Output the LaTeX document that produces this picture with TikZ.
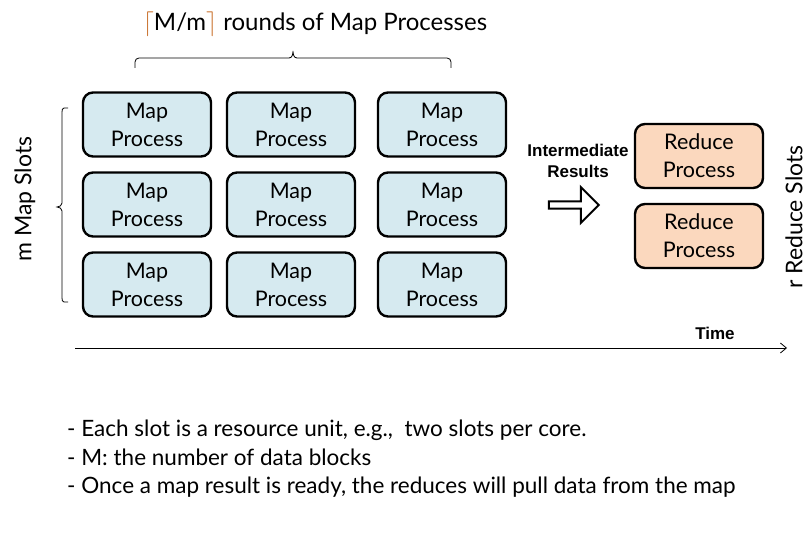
\documentclass[tikz,border=0pt]{standalone}
\usepackage{fontspec}
\setmainfont{Lato}
\newfontfamily\boldlab{Liberation Sans}
\usetikzlibrary{arrows.meta,shapes.arrows}
\definecolor{mapfill}{RGB}{214,234,240}
\definecolor{redfill}{RGB}{251,216,190}
\definecolor{ceilc}{RGB}{200,110,40}
\tikzset{
  procbox/.style={draw=black, line width=2.4pt, rounded corners=10pt, minimum width=128pt, minimum height=64pt, align=center, font=\fontsize{21.5}{28}\selectfont, inner sep=0pt},
  mapbox/.style={procbox, fill=mapfill},
  redbox/.style={procbox, fill=redfill},
  bracel/.style={draw=black, line width=0.8pt},
  boldtxt/.style={font=\boldlab\bfseries\fontsize{17}{21}\selectfont},
}
\begin{document}
\begin{tikzpicture}[x=1pt,y=-1pt]
\useasboundingbox (0,0) rectangle (808,540);
% title
\node (title) at (315,24) {\fontsize{24}{28}\selectfont\textcolor{ceilc}{$\lceil$}M/m\textcolor{ceilc}{$\rceil$} rounds of Map Processes};
% top brace
\coordinate (tb1) at (135,68);
\coordinate (tb2) at (451,68);
\draw[bracel] (tb1) -- ++(0,-6) to[out=90,in=180] ++(4,-4) -- (289,58) to[out=0,in=-90] (293,51) to[out=-90,in=180] (297,58) -- (447,58) to[out=0,in=90] ++(4,4) -- (tb2);
% left brace
\draw[bracel] (68,108) -- (64,108) to[out=180,in=90] (62,112) -- (62,203) to[out=-90,in=0] (57,207) to[out=0,in=90] (62,211) -- (62,298) to[out=-90,in=180] (64,302) -- (68,302);
\node[rotate=90, font=\fontsize{23}{27}\selectfont] (mslots) at (25,199) {m Map Slots};
\node[rotate=90, font=\fontsize{23}{27}\selectfont] (rslots) at (794,217) {r Reduce Slots};
% map boxes
\foreach \c/\x in {1/147,2/291,3/442}{
  \foreach \r/\y in {1/124.5,2/204.5,3/284.5}{
    \node[mapbox] (m\c\r) at (\x,\y) {Map\\Process};
  }
}
% reduce boxes
\node[redbox] (r1) at (699,156) {Reduce\\Process};
\node[redbox] (r2) at (699,236) {Reduce\\Process};
% intermediate
\node[boldtxt, align=center] (inter) at (578,161) {Intermediate\\Results};
\node[single arrow, draw=black, line width=2pt, fill=white, minimum height=50pt, minimum width=36pt, single arrow head extend=4pt, inner sep=0pt, single arrow tip angle=90] (harrow) at (572,205) {};
% time axis
\node[boldtxt] (time) at (715,333) {Time};
\coordinate (t0) at (75,348);
\coordinate (t1) at (787,348);
\draw[line width=0.8pt, -{Straight Barb[length=6pt,width=10pt]}] (t0) -- (t1);
% notes
\node[anchor=north west, align=left, font=\fontsize{22.5}{28.5}\selectfont, inner sep=0pt] (notes) at (67,420) {- Each slot is a resource unit, e.g.,\ \ two slots per core.\\- M: the number of data blocks\\- Once a map result is ready, the reduces will pull data from the map};
\end{tikzpicture}
\end{document}
